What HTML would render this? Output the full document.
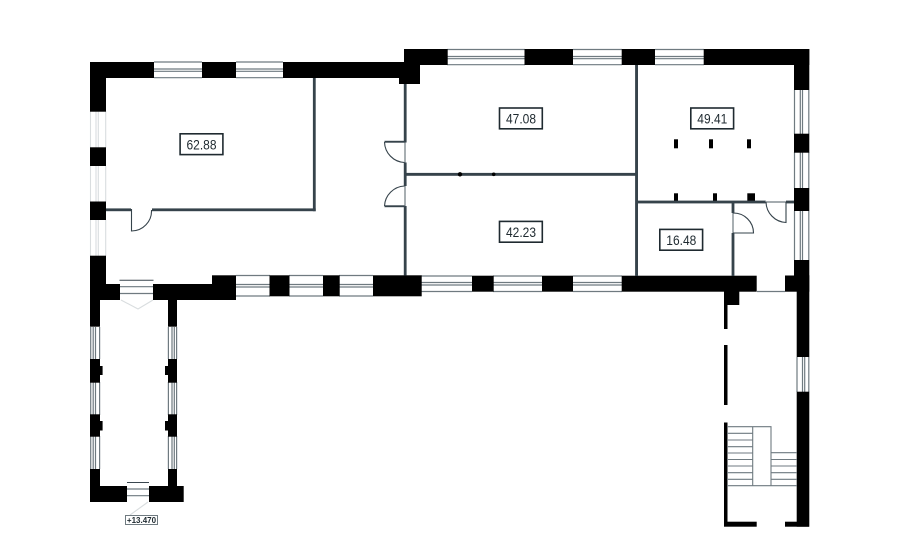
<!DOCTYPE html>
<html><head><meta charset="utf-8">
<style>
html,body{margin:0;padding:0;background:#fff}
svg{display:block}
text{font-family:"Liberation Sans",sans-serif;fill:#1f2a30}
</style></head>
<body>
<svg width="900" height="543" viewBox="0 0 900 543" xmlns="http://www.w3.org/2000/svg">
<!-- window glass lines: gray -->
<path fill="none" stroke="#6f7a80" stroke-width="1.2" d="
M154 62H202M154 69H202M154 71.3H202M154 77.7H202
M236 62H283M236 69H283M236 71.3H283M236 77.7H283
M447 49.5H525M447 56.5H525M447 58.7H525M447 64.7H525
M573 49.5H622M573 56.5H622M573 58.7H622M573 64.7H622
M655 49.5H704M655 56.5H704M655 58.7H704M655 64.7H704
M236 275.5H270M236 284.5H270M236 287H270M236 296H270
M289 275.5H323M289 284.5H323M289 287H323M289 296H323
M339 275.5H373M339 284.5H373M339 287H373M339 296H373
M421 276H472M421 282.5H472M421 285H472M421 291.5H472
M493 276H542M493 282.5H542M493 285H542M493 291.5H542
M573 276H622M573 282.5H622M573 285H622M573 291.5H622
M794.5 90V134M800.3 90V134M802.5 90V134M808.8 90V134
M794.5 152V188M800.3 152V188M802.5 152V188M808.8 152V188
M794.5 211V260M800.3 211V260M802.5 211V260M808.8 211V260
M797 357V392M802.5 357V392M804.7 357V392M808.8 357V392
M90.7 327V359M93.2 327V359M95.5 327V359M99.6 327V359
M90.7 382V415M93.2 382V415M95.5 382V415M99.6 382V415
M90.7 436V469M93.2 436V469M95.5 436V469M99.6 436V469
M168.4 327V359M172 327V359M174.3 327V359M176.6 327V359
M168.4 382V415M172 382V415M174.3 382V415M176.6 382V415
M168.4 436V469M172 436V469M174.3 436V469M176.6 436V469
M120 286.7H153M120 293.5H153M127 489H149M127 495.7H149
M757 291.5H785
M405 142V163M405 186V206
M766 202H786M733 213V233
"/>
<path fill="none" stroke="#3a474f" stroke-width="1" d="M119.5 280.2H153.5M127 482.5H149"/>
<!-- pale windows -->
<path fill="none" stroke="#d9dddf" stroke-width="1.1" d="
M90.5 111V148M96 111V148M98.3 111V148M105.7 111V148
M90.5 166V202M96 166V202M98.3 166V202M105.7 166V202
M90.5 220V256M96 220V256M98.3 220V256M105.7 220V256
M121 300L138 309L153 300M148 502L130 515"/>
<!-- black walls -->
<g fill="#000">
<rect x="90" y="62" width="64" height="16"/>
<rect x="90" y="62" width="16" height="49.7"/>
<rect x="90" y="147.3" width="16" height="18.7"/>
<rect x="90" y="201.5" width="16" height="18.5"/>
<rect x="90" y="255.7" width="16" height="30"/>
<rect x="202" y="62" width="34" height="16"/>
<rect x="283" y="62" width="125" height="16"/>
<rect x="399" y="62" width="21" height="22"/>
<rect x="404" y="49" width="43.7" height="16"/>
<rect x="404" y="53" width="16" height="31"/>
<rect x="524.5" y="49" width="48.5" height="16"/>
<rect x="621.7" y="49" width="33.3" height="16"/>
<rect x="703.7" y="49" width="105.6" height="16"/>
<rect x="794" y="49" width="15.3" height="41"/>
<rect x="794" y="133.7" width="15.3" height="19"/>
<rect x="794" y="188" width="15.3" height="23"/>
<rect x="794" y="260" width="15.3" height="16"/>
<rect x="785" y="275.5" width="24.3" height="16.2"/>
<rect x="796.7" y="275.5" width="12.6" height="81.5"/>
<rect x="796.7" y="391.7" width="12.6" height="135"/>
<rect x="785" y="521.7" width="24" height="5"/>
<rect x="724" y="521.7" width="32.7" height="5"/>
<rect x="724" y="422.5" width="3.5" height="104"/>
<rect x="724" y="345" width="3.5" height="60"/>
<rect x="724" y="291" width="3.5" height="38"/>
<rect x="724" y="291" width="15.3" height="14"/>
<rect x="621.7" y="275.7" width="135" height="16"/>
<rect x="542" y="275.7" width="31" height="16"/>
<rect x="472" y="275.7" width="21.7" height="16"/>
<rect x="373" y="275.3" width="48.7" height="21"/>
<rect x="323" y="275.3" width="16.7" height="21"/>
<rect x="269.5" y="275.3" width="20" height="21"/>
<rect x="212" y="275.3" width="24" height="24.7"/>
<rect x="153" y="284" width="83" height="16"/>
<rect x="90" y="284" width="30" height="16"/>
<rect x="90" y="296" width="10" height="30.7"/>
<rect x="168" y="296" width="9" height="30.7"/>
<rect x="90" y="359" width="10" height="23.7"/><rect x="98" y="366" width="4.6" height="9"/>
<rect x="90" y="414.3" width="10" height="22.4"/><rect x="98" y="421" width="4.6" height="9.5"/>
<rect x="168" y="359" width="9" height="23.7"/><rect x="165" y="366" width="4" height="9"/>
<rect x="168" y="414.3" width="9" height="22.4"/><rect x="165" y="421" width="4" height="9.5"/>
<rect x="90" y="469" width="10" height="20"/>
<rect x="168" y="469" width="9" height="20"/>
<rect x="90" y="486" width="37" height="16"/>
<rect x="149" y="486" width="34.7" height="16"/>
<!-- pegs -->
<rect x="674" y="139.3" width="4" height="9"/>
<rect x="709" y="139.3" width="4" height="9"/>
<rect x="747" y="139.3" width="4" height="9"/>
<rect x="674" y="193.3" width="4" height="8"/>
<rect x="713" y="193.3" width="4" height="8"/>
<rect x="747.3" y="193.3" width="7.7" height="8"/>
</g>
<!-- interior walls -->
<g fill="#36434b">
<rect x="312.9" y="78" width="2.8" height="133.2"/>
<rect x="106" y="208.4" width="25" height="2.8"/>
<rect x="152" y="208.4" width="163.7" height="2.8"/>
<rect x="403.8" y="84" width="2.8" height="58.5"/>
<rect x="403.8" y="162.5" width="2.8" height="23.5"/>
<rect x="403.8" y="206" width="2.8" height="69.5"/>
<rect x="406" y="172.9" width="231" height="2.9"/>
<rect x="635.1" y="65" width="2.9" height="211"/>
<rect x="637" y="200.6" width="128.7" height="2.8"/>
<rect x="786" y="200.6" width="8" height="2.8"/>
<rect x="731.6" y="202" width="2.8" height="11"/>
<rect x="731.6" y="233" width="2.8" height="43"/>
<rect x="384.5" y="140.8" width="20" height="1.9"/>
<rect x="384.5" y="205.3" width="20" height="1.9"/>
<circle cx="460" cy="174.3" r="2.2" fill="#000"/>
<circle cx="493.7" cy="174.3" r="1.8" fill="#000"/>
</g>
<!-- door leaves -->
<path fill="none" stroke="#36434b" stroke-width="1.1" d="
M131.5 209V231A20 20 0 0 0 151.5 210
M384.5 142A21 21 0 0 0 404.5 162.5
M404.5 186A21 21 0 0 0 384.5 206
M786 202V222.5A21 21 0 0 1 766 202
M733 213A20 20 0 0 1 753.5 233H733
"/>
<!-- stairs -->
<path fill="none" stroke="#6f7a80" stroke-width="1.1" d="
M727 426.7H771V485.7H727M752.7 426.7V485.7M770.7 485.7H797
M727 433.3H752.7M727 440H752.7M727 446.7H752.7M727 453H752.7M727 459.5H752.7M727 466H752.7M727 472.7H752.7M727 479.3H752.7
M771 452.7H797M771 459.5H797M771 466H797M771 472.7H797M771 479.3H797
"/>
<!-- labels -->
<g fill="#fff" stroke="#1f2a30" stroke-width="1.6">
<rect x="180.1" y="133.8" width="42.8" height="20.8"/>
<rect x="499.5" y="108" width="42.8" height="20.8"/>
<rect x="690.8" y="108" width="42.8" height="20.8"/>
<rect x="499.5" y="221.4" width="42.8" height="20.8"/>
<rect x="659.8" y="229.4" width="42.8" height="20.8"/>
</g>
<rect x="125.5" y="515.5" width="32" height="9" fill="#fff" stroke="#6f7a80" stroke-width="1"/>
<g font-size="13.5" text-anchor="middle">
<text x="201.5" y="149.3" textLength="30" lengthAdjust="spacingAndGlyphs">62.88</text>
<text x="521" y="123.3" textLength="30" lengthAdjust="spacingAndGlyphs">47.08</text>
<text x="712.3" y="123.3" textLength="30" lengthAdjust="spacingAndGlyphs">49.41</text>
<text x="521" y="236.8" textLength="30" lengthAdjust="spacingAndGlyphs">42.23</text>
<text x="681.3" y="244.8" textLength="30" lengthAdjust="spacingAndGlyphs">16.48</text>
</g>
<text x="141.5" y="523" font-size="8" font-weight="bold" text-anchor="middle" style="fill:#1f2a30">+13.470</text>
</svg>
</body></html>
